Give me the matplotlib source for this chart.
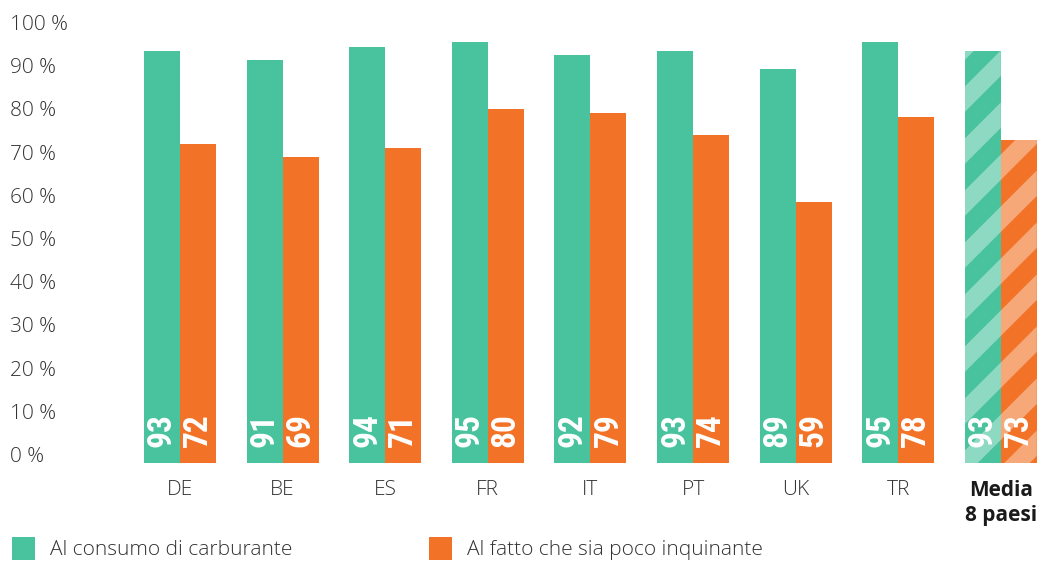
import matplotlib
matplotlib.use('Agg')
import matplotlib.pyplot as plt
from matplotlib.patches import Rectangle, Polygon
from matplotlib.path import Path
from matplotlib.transforms import blended_transform_factory
import numpy as np

categories = ['DE', 'BE', 'ES', 'FR', 'IT', 'PT', 'UK', 'TR', 'Media\n8 paesi']
fuel = [93, 91, 94, 95, 92, 93, 89, 95, 93]
clean = [72, 69, 71, 80, 79, 74, 59, 78, 73]
yticks = list(range(0, 101, 10))
series_labels = ['Al consumo di carburante', 'Al fatto che sia poco inquinante']

GREEN = '#49C39D'
ORANGE = '#F27327'
TEXT = '#333333'
FONT = ['Open Sans', 'DejaVu Sans']
NUMFONT = ['Liberation Sans Narrow', 'Roboto Condensed', 'Roboto', 'DejaVu Sans']
FS = 15

W, H = 1038, 562
fig = plt.figure(figsize=(W / 100, H / 100), dpi=100)
L, R, B, T = 100, 1038, 463, 20
ax = fig.add_axes([L / W, (H - B) / H, (R - L) / W, (B - T) / H])
step = 102.6
ax.set_xlim((L - 180) / step, (R - 180) / step)
ax.set_ylim(0, 100)
for s in ax.spines.values():
    s.set_visible(False)
ax.set_yticks([])

x = np.arange(len(categories))
bw = 36 / step
g_bars = ax.bar(x - bw / 2, fuel, bw, color=GREEN, linewidth=0)
o_bars = ax.bar(x + bw / 2, clean, bw, color=ORANGE, linewidth=0)

# value labels
for bars, vals in ((g_bars, fuel), (o_bars, clean)):
    for b, v in zip(bars, vals):
        ax.annotate(str(v), (b.get_x() + b.get_width() / 2, 0), xytext=(0, 11.5),
                    textcoords='offset points', rotation=90, ha='center', va='bottom',
                    color='white', fontsize=24, fontweight='heavy', family=NUMFONT, zorder=5)

# x tick labels
ax.set_xticks(x)
ax.set_xticklabels(categories, fontsize=FS, color=TEXT, family=FONT, va='top', fontweight='light')
ax.tick_params(axis='x', length=0, pad=12)
ax.get_xticklabels()[-1].set_fontweight('bold')
ax.get_xticklabels()[-1].set_color('#1a1a1a')
ax.get_xticklabels()[-1].set_linespacing(1.25)

# y tick labels (the reference places them on a slightly compressed grid)
bt = blended_transform_factory(fig.transFigure, ax.transData)
for v in yticks:
    ax.annotate(f'{v} %', (10 / W, v), xycoords=bt,
                xytext=(0, (4.32 - 4.43) * v * 0.72 + 4.3), textcoords='offset points',
                ha='left', va='center', fontsize=FS, color=TEXT, family=FONT, fontweight='light')

# diagonal stripes on the average bars (computed in pixel space, clipped to each bar)
fig.canvas.draw()
inv = ax.transData.inverted()
half = 18.0 / 2 * np.sqrt(2)  # vertical half-thickness of a light band
for b in (g_bars[-1], o_bars[-1]):
    bb = b.get_window_extent()
    for k in range(-30, 30):
        c = 18 + 52 * k
        x0, x1 = bb.x0 - 80, bb.x1 + 80
        band = Path([(x0, x0 + c - half), (x1, x1 + c - half), (x1, x1 + c + half),
                     (x0, x0 + c + half), (x0, x0 + c - half)], closed=True)
        clipped = band.clip_to_bbox(bb, inside=True)
        verts = clipped.vertices
        if len(verts) < 3:
            continue
        ax.add_patch(Polygon(inv.transform(verts), closed=True, facecolor='white',
                             alpha=0.38, linewidth=0, zorder=3))

# legend
for (px, tx), col, lab in (((12, 50), GREEN, series_labels[0]), ((429, 467), ORANGE, series_labels[1])):
    fig.add_artist(Rectangle((px / W, (H - 560) / H), 23 / W, 23 / H, transform=fig.transFigure,
                             color=col, linewidth=0))
    fig.text(tx / W, (H - 550) / H, lab, ha='left', va='center', fontsize=FS, color=TEXT,
             family=FONT, fontweight='light')

fig.savefig('out.png', dpi=100)
